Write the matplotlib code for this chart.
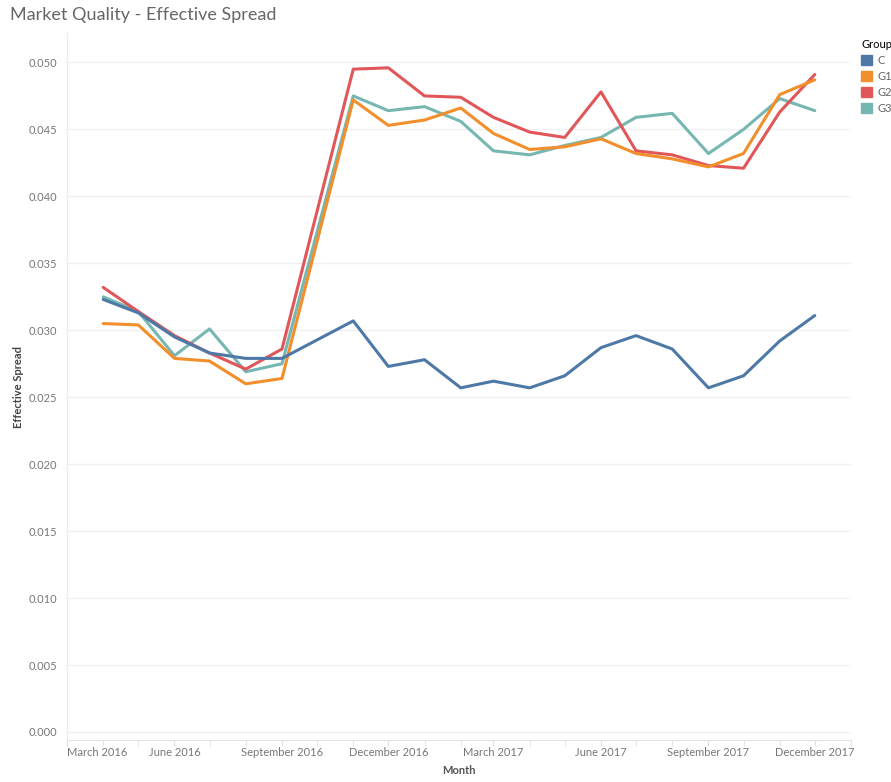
import pandas as pd
import matplotlib
matplotlib.use("Agg")
import matplotlib.pyplot as plt
import matplotlib.dates as mdates
from matplotlib.patches import Patch

# monthly averages, October 2016 has no data
months = ['2016-04', '2016-05', '2016-06', '2016-07', '2016-08', '2016-09',
          '2016-11', '2016-12',
          '2017-01', '2017-02', '2017-03', '2017-04', '2017-05', '2017-06',
          '2017-07', '2017-08', '2017-09', '2017-10', '2017-11', '2017-12']

spread_c = [0.0323, 0.0313, 0.0295, 0.0283, 0.0279, 0.0279, 0.0307, 0.0273,
            0.0278, 0.0257, 0.0262, 0.0257, 0.0266, 0.0287, 0.0296, 0.0286,
            0.0257, 0.0266, 0.0292, 0.0311]
spread_g1 = [0.0305, 0.0304, 0.0279, 0.0277, 0.0260, 0.0264, 0.0472, 0.0453,
             0.0457, 0.0466, 0.0447, 0.0435, 0.0437, 0.0443, 0.0432, 0.0428,
             0.0422, 0.0432, 0.0476, 0.0487]
spread_g2 = [0.0332, 0.0314, 0.0296, 0.0283, 0.0271, 0.0286, 0.0495, 0.0496,
             0.0475, 0.0474, 0.0459, 0.0448, 0.0444, 0.0478, 0.0434, 0.0431,
             0.0423, 0.0421, 0.0463, 0.0491]
spread_g3 = [0.0325, 0.0314, 0.0281, 0.0301, 0.0269, 0.0275, 0.0475, 0.0464,
             0.0467, 0.0456, 0.0434, 0.0431, 0.0438, 0.0444, 0.0459, 0.0462,
             0.0432, 0.0450, 0.0473, 0.0464]

groups = ['C', 'G1', 'G2', 'G3']
colors = ['#4e79a7', '#f28e2b', '#e15759', '#76b7b2']
series = [spread_c, spread_g1, spread_g2, spread_g3]

dates = pd.to_datetime(months)

plt.rcParams['font.family'] = ['Lato', 'DejaVu Sans']

fig = plt.figure(figsize=(8.91, 7.82), dpi=100)
ax = fig.add_axes([67 / 891, 1 - 740 / 782, (851 - 67) / 891, (740 - 33) / 782])

# draw C last so it sits on top
for name, vals, col in reversed(list(zip(groups, series, colors))):
    ax.plot(dates, vals, color=col, lw=2.2, solid_joinstyle='round',
            solid_capstyle='round')

ax.set_xlim(pd.Timestamp('2016-03-01'), pd.Timestamp('2018-01-01'))
ax.set_ylim(-0.0006, 0.0522)
ax.set_yticks([i * 0.005 for i in range(11)])
ax.yaxis.set_major_formatter(plt.FuncFormatter(lambda v, p: f'{v:.3f}'))

ax.xaxis.set_major_locator(mdates.MonthLocator(bymonth=[3, 6, 9, 12]))
ax.xaxis.set_minor_locator(mdates.MonthLocator())
ax.xaxis.set_major_formatter(mdates.DateFormatter('%B %Y'))

ax.grid(axis='y', color='#f0f0f0', lw=1)
ax.set_axisbelow(True)
for s in ['top', 'right']:
    ax.spines[s].set_visible(False)
ax.spines['left'].set_color('#ececec')
ax.spines['bottom'].set_color('#e4e4e4')

ax.tick_params(axis='y', length=0, labelsize=8, labelcolor='#777777', pad=7)
ax.tick_params(axis='x', which='both', length=4, color='#e0e0e0',
               labelsize=8, labelcolor='#777777', pad=1)

fig.canvas.draw()
xlabels = ax.get_xticklabels()
xlabels[0].set_horizontalalignment('left')

ax.set_ylabel('Effective Spread', fontsize=8, color='#444444',
              fontweight='bold', labelpad=3)
ax.set_xlabel('Month', fontsize=8, color='#555555', fontweight='bold',
              labelpad=5)

fig.text(10 / 891, 1 - 15 / 782, 'Market Quality - Effective Spread',
         fontsize=13, color='#666666', va='center', ha='left')

handles = [Patch(facecolor=c, edgecolor=c) for c in colors]
fig.legend(handles, groups, title='Group', loc='upper left',
           bbox_to_anchor=(851 / 891, 1 - 29 / 782), frameon=False,
           fontsize=8, title_fontsize=8, handlelength=1.0, handleheight=1.0,
           handletextpad=0.5, labelspacing=0.45, alignment='left',
           labelcolor='#666666')

fig.savefig('out.png', dpi=100)
